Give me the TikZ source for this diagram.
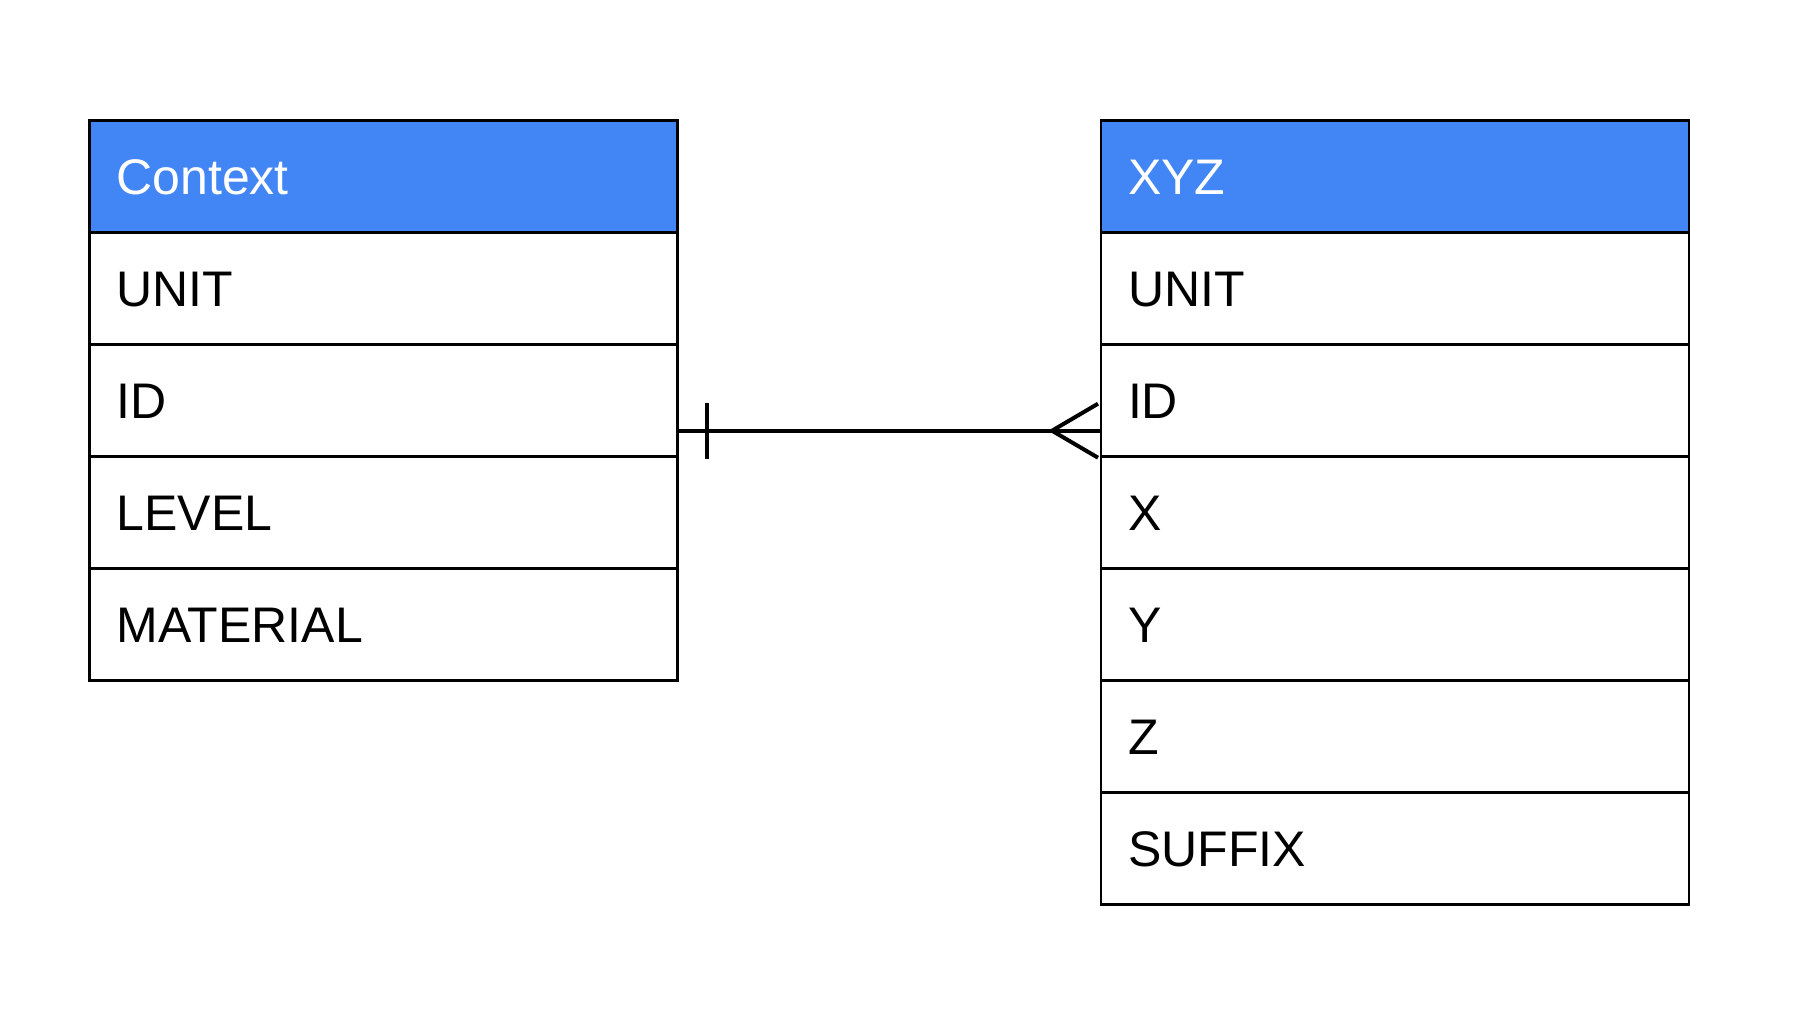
\documentclass[tikz,border=0pt]{standalone}
\usepackage{fontspec}
\setmainfont{Liberation Sans}
\usetikzlibrary{positioning}
\definecolor{hdrblue}{HTML}{4285F4}
\begin{document}
	\begin{tikzpicture}
		[field/.style={draw=black, line width=1.35pt, rectangle, outer sep=0pt,
			minimum height=56pt, text width=267pt, inner xsep=13.5pt, align=left,
			text height=17.9pt, text depth=0pt,
			font=\fontsize{25}{30}\selectfont},
		header/.style={field, fill=hdrblue, text=white},
		link/.style={line width=2pt}]
		\useasboundingbox (0,0) rectangle (907pt,-515pt);
		% left table
		\node[header, anchor=north west] (ctx) at (44.75pt,-60.35pt) {Context};
		\node[field, below=0pt of ctx] (ctxunit) {UNIT};
		\node[field, below=0pt of ctxunit] (ctxid) {ID};
		\node[field, below=0pt of ctxid] (ctxlevel) {LEVEL};
		\node[field, below=0pt of ctxlevel] (ctxmat) {MATERIAL};
		% right table
		\node[header, anchor=north west] (xyz) at (550.5pt,-60.35pt) {XYZ};
		\node[field, below=0pt of xyz] (xyzunit) {UNIT};
		\node[field, below=0pt of xyzunit] (xyzid) {ID};
		\node[field, below=0pt of xyzid] (xyzx) {X};
		\node[field, below=0pt of xyzx] (xyzy) {Y};
		\node[field, below=0pt of xyzy] (xyzz) {Z};
		\node[field, below=0pt of xyzz] (xyzsuffix) {SUFFIX};
		% one to many
		\coordinate (from) at ([yshift=-15pt]ctxid.east);
		\coordinate (to) at (xyzid.west |- from);
		\draw[link] (from) -- (to);
		\draw[link] ([xshift=14.5pt,yshift=14pt]from) -- ([xshift=14.5pt,yshift=-14pt]from);
		\draw[link] ([xshift=-1.5pt,yshift=13.5pt]to) -- ([xshift=-24.5pt]to)
			-- ([xshift=-1.5pt,yshift=-13.5pt]to);
	\end{tikzpicture}
\end{document}
